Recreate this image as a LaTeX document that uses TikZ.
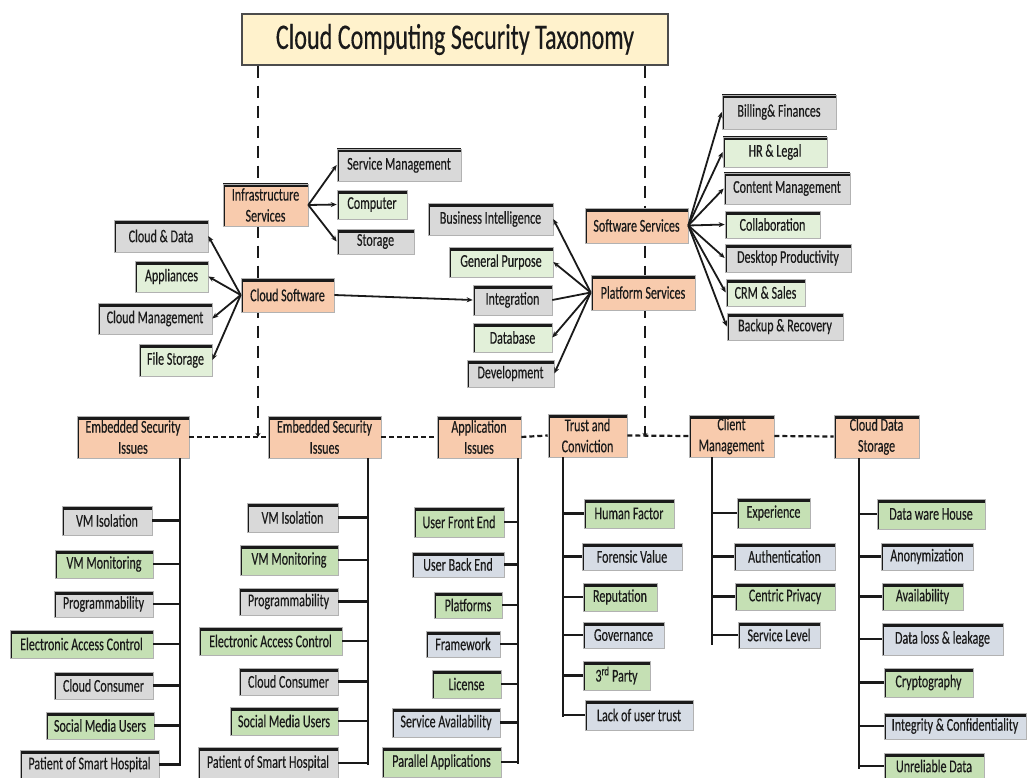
\documentclass[tikz,border=0pt]{standalone}
\usepackage{fontspec}
\setmainfont{Carlito}[FakeStretch=0.67,FakeBold=0.3]
\usetikzlibrary{arrows.meta}

\definecolor{peach}{HTML}{F8CBAD}
\definecolor{greyfill}{HTML}{D9D9D9}
\definecolor{lightgreen}{HTML}{E2F0D9}
\definecolor{midgreen}{HTML}{C5E0B4}
\definecolor{bluegrey}{HTML}{D6DCE5}
\definecolor{titlefill}{HTML}{FFF2CC}
\definecolor{ink}{HTML}{1A1A1A}

% box given by its corners (x1,y1)-(x2,y2), y measured downwards
\newcommand{\bx}[7]{\node[#6,minimum width={(#4-#2)*1pt},minimum height={(#5-#3)*1pt}] (#1) at ({(#2+#4)/2},{(#3+#5)/2}) {#7};}

\begin{document}
\begin{tikzpicture}[x=1pt,y=-1pt,
  tag/.style={rectangle, inner sep=0pt, draw=black!30, line width=0.6pt,
    text=ink, font=\fontsize{18}{21}\selectfont, align=center,
    path picture={
      \draw[ink, line width=7pt] (path picture bounding box.north west) -- (path picture bounding box.north east);
      \draw[ink, line width=4.5pt] (path picture bounding box.north west) -- (path picture bounding box.south west);}},
  thead/.style={tag, fill=peach},
  tgrey/.style={tag, fill=greyfill},
  tlgreen/.style={tag, fill=lightgreen},
  tgreen/.style={tag, fill=midgreen},
  tblue/.style={tag, fill=bluegrey},
  titlebox/.style={rectangle, inner sep=0pt, fill=titlefill, draw=black!70, line width=1.2pt,
    text=ink, font=\fontsize{36}{40}\selectfont},
  arr/.style={-{Stealth[length=6pt,width=5pt]}, line width=1.8pt, ink},
  link/.style={line width=1.8pt, ink},
  trunk/.style={line width=2.4pt, ink},
  vdash/.style={line width=2pt, ink, dash pattern=on 12pt off 8pt, -{Stealth[length=4pt,width=5pt]}},
  hdash/.style={line width=2.2pt, ink, dash pattern=on 5pt off 3pt}
]
\fill[white] (0,0) rectangle (1027,778);
\useasboundingbox (0,0) rectangle (1027,778);

% title and the two dashed guide lines behind the service boxes
\bx{title}{242}{14}{668}{65}{titlebox}{Cloud Computing Security Taxonomy}
\coordinate (lguide) at (258,437);
\coordinate (rguide) at (645,437);
\draw[vdash] (title.south -| lguide) -- (lguide);
\draw[vdash] (title.south -| rguide) -- (rguide);

% ---- service layer ----
\bx{infra}{223}{184}{308}{226}{thead}{Infrastructure\\Services}
\bx{svcmgmt}{337}{149}{461}{181}{tgrey}{Service Management}
\bx{computer}{337}{190}{407}{219}{tlgreen}{Computer}
\bx{storage}{337}{229}{414}{254}{tgrey}{Storage}

\bx{csoft}{241}{278}{334}{312}{thead}{Cloud Software}
\bx{clouddata}{114}{220}{208}{252}{tgrey}{Cloud \& Data}
\bx{appliances}{135}{261}{208}{292}{tlgreen}{Appliances}
\bx{cloudmgmt}{98}{303}{212}{334}{tgrey}{Cloud Management}
\bx{filestor}{139}{344}{212}{376}{tlgreen}{File Storage}

\bx{platform}{591}{275}{695}{310}{thead}{Platform Services}
\bx{bi}{428}{203}{553}{235}{tgrey}{Business Intelligence}
\bx{general}{449}{247}{553}{277}{tlgreen}{General Purpose}
\bx{integration}{473}{285}{552}{315}{tgrey}{Integration}
\bx{database}{473}{323}{552}{352}{tlgreen}{Database}
\bx{development}{467}{360}{554}{387}{tgrey}{Development}

\bx{software}{585}{208}{688}{243}{thead}{Software Services}
\bx{billing}{722}{95}{836}{129}{tgrey}{Billing\& Finances}
\bx{hr}{723}{137}{827}{167}{tlgreen}{HR \& Legal}
\bx{content}{724}{173}{850}{204}{tgrey}{Content Management}
\bx{collab}{725}{211}{820}{238}{tlgreen}{Collaboration}
\bx{desktop}{725}{244}{851}{272}{tgrey}{Desktop Productivity}
\bx{crm}{726}{279}{805}{306}{tlgreen}{CRM \& Sales}
\bx{backup}{727}{313}{843}{340}{tgrey}{Backup \& Recovery}

\foreach \t in {svcmgmt,computer,storage} \draw[arr] (infra.east) -- (\t.west);
\foreach \t in {clouddata,appliances,cloudmgmt,filestor} \draw[arr] (csoft.west) -- (\t.east);
\draw[arr] (csoft.east) -- (integration.west);
\foreach \t in {bi,general,database,development} \draw[arr] (platform.west) -- (\t.east);
\draw[link] (platform.west) -- (integration.east);
\foreach \t in {billing,hr,content,collab,desktop,crm,backup} \draw[arr] (software.east) -- (\t.west);

% ---- issue categories ----
\bx{emb1}{77}{416}{189}{458}{thead}{Embedded Security\\Issues}
\bx{emb2}{268}{416}{381}{458}{thead}{Embedded Security\\Issues}
\bx{app}{437}{416}{521}{458}{thead}{Application\\Issues}
\bx{trust}{548}{414}{627}{457}{thead}{Trust and\\Conviction}
\bx{client}{689}{415}{774}{457}{thead}{Client\\Management}
\bx{cds}{834}{415}{919}{458}{thead}{Cloud Data\\Storage}
\draw[hdash] (emb1.east) -- (emb2.west);
\draw[hdash] (emb2.east) -- (app.west);
\draw[hdash] (app.east) -- (trust.west);
\draw[hdash] (trust.east) -- (client.west);
\draw[hdash] (client.east) -- (cds.west);

% first embedded security column
\bx{a1}{62}{506}{152}{535}{tgrey}{VM Isolation}
\bx{a2}{55}{550}{153}{578}{tgreen}{VM Monitoring}
\bx{a3}{54}{591}{153}{617}{tgrey}{Programmability}
\bx{a4}{10}{630}{153}{658}{tgreen}{Electronic Access Control}
\bx{a5}{54}{672}{153}{699}{tgrey}{Cloud Consumer}
\bx{a6}{46}{712}{154}{739}{tgreen}{Social Media Users}
\bx{a7}{20}{750}{159}{779}{tgrey}{Patient of Smart Hospital}
\coordinate (aend) at (180,766);
\draw[trunk] (emb1.south -| aend) -- (aend);
\foreach \t in {a1,a2,a3,a4,a5,a6,a7} \draw[trunk] (\t.east) -- (\t.east -| aend);

% second embedded security column
\bx{b1}{247}{503}{338}{532}{tgrey}{VM Isolation}
\bx{b2}{240}{545}{338}{575}{tgreen}{VM Monitoring}
\bx{b3}{239}{588}{338}{615}{tgrey}{Programmability}
\bx{b4}{199}{627}{342}{655}{tgreen}{Electronic Access Control}
\bx{b5}{239}{668}{338}{695}{tgrey}{Cloud Consumer}
\bx{b6}{230}{707}{338}{735}{tgreen}{Social Media Users}
\bx{b7}{198}{747}{338}{779}{tgrey}{Patient of Smart Hospital}
\coordinate (bend) at (368,765);
\draw[trunk] (emb2.south -| bend) -- (bend);
\foreach \t in {b1,b2,b3,b4,b5,b6,b7} \draw[trunk] (\t.east) -- (\t.east -| bend);

% application issues column
\bx{c1}{414}{507}{504}{537}{tgreen}{User Front End}
\bx{c2}{412}{552}{504}{577}{tblue}{User Back End}
\bx{c3}{434}{592}{502}{618}{tgreen}{Platforms}
\bx{c4}{426}{631}{500}{657}{tblue}{Framework}
\bx{c5}{432}{670}{501}{698}{tgreen}{License}
\bx{c6}{392}{708}{500}{737}{tblue}{Service Availability}
\bx{c7}{382}{747}{501}{777}{tgreen}{Parallel Applications}
\coordinate (cend) at (518,764);
\draw[trunk] (app.south -| cend) -- (cend);
\foreach \t in {c1,c2,c3,c4,c5,c6,c7} \draw[trunk] (\t.east) -- (\t.east -| cend);

% trust and conviction column
\bx{d1}{584}{499}{674}{528}{tgreen}{Human Factor}
\bx{d2}{582}{543}{682}{570}{tblue}{Forensic Value}
\bx{d3}{583}{583}{657}{611}{tgreen}{Reputation}
\bx{d4}{583}{622}{664}{648}{tblue}{Governance}
\bx{d5}{583}{661}{650}{690}{tgreen}{3\textsuperscript{rd} Party}
\bx{d6}{585}{700}{693}{730}{tblue}{Lack of user trust}
\coordinate (dend) at (563,717);
\draw[trunk] (trust.south -| dend) -- (dend);
\foreach \t in {d1,d2,d3,d4,d5,d6} \draw[trunk] (\t.west) -- (\t.west -| dend);

% client management column
\bx{e1}{737}{498}{810}{528}{tgreen}{Experience}
\bx{e2}{734}{543}{835}{570}{tblue}{Authentication}
\bx{e3}{735}{583}{835}{610}{tgreen}{Centric Privacy}
\bx{e4}{738}{622}{820}{648}{tblue}{Service Level}
\coordinate (eend) at (712,645);
\draw[trunk] (client.south -| eend) -- (eend);
\foreach \t in {e1,e2,e3,e4} \draw[trunk] (\t.west) -- (\t.west -| eend);

% cloud data storage column
\bx{f1}{877}{499}{985}{529}{tgreen}{Data ware House}
\bx{f2}{881}{543}{973}{570}{tblue}{Anonymization}
\bx{f3}{882}{583}{963}{610}{tgreen}{Availability}
\bx{f4}{882}{623}{1003}{655}{tblue}{Data loss \& leakage}
\bx{f5}{884}{668}{973}{697}{tgreen}{Cryptography}
\bx{f6}{884}{713}{1026}{739}{tblue}{Integrity \& Confidentiality}
\bx{f7}{884}{753}{984}{779}{tgreen}{Unreliable Data}
\coordinate (fend) at (859,769);
\draw[trunk] (cds.south -| fend) -- (fend);
\foreach \t in {f1,f2,f3,f4,f5,f6,f7} \draw[trunk] (\t.west) -- (\t.west -| fend);
\end{tikzpicture}
\end{document}
